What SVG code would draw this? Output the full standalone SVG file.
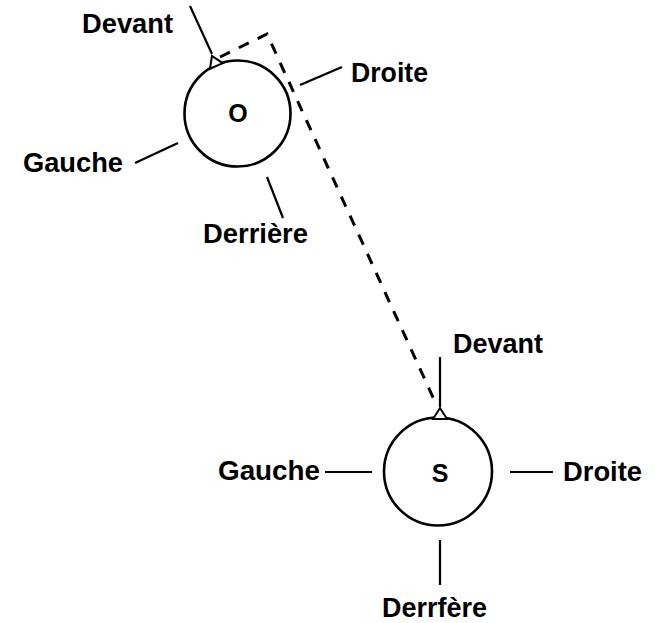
<svg xmlns="http://www.w3.org/2000/svg" width="659" height="623" viewBox="0 0 659 623">
<style>
.lbl{font-family:"Liberation Sans",Arial,sans-serif;font-weight:bold;font-size:27px;fill:#000}
.ctr{font-family:"Liberation Sans",Arial,sans-serif;font-weight:bold;font-size:25px;fill:#000;text-anchor:middle}
.ring{fill:none;stroke:#000;stroke-width:2.6}
.lead{fill:none;stroke:#000;stroke-width:2.2}
.mark{fill:#fff;stroke:#000;stroke-width:2}
.dash{fill:none;stroke:#000;stroke-width:3;stroke-dasharray:11 10}
</style>
<defs>
<polygon id="tri" points="-7,1 0,-10 7,1"/>
</defs>
<rect width="659" height="623" fill="#fff"/>
<g id="connectors">
<path class="dash" d="M220,57 L267,34 L437,406"/>
<line class="lead" x1="190" y1="6" x2="212" y2="54"/>
<line class="lead" x1="300" y1="85" x2="342" y2="67"/>
<line class="lead" x1="135" y1="163" x2="178" y2="143"/>
<line class="lead" x1="267" y1="177" x2="283" y2="218"/>
<line class="lead" x1="440" y1="357" x2="440" y2="407"/>
<line class="lead" x1="325" y1="472" x2="372" y2="472"/>
<line class="lead" x1="510" y1="472" x2="553" y2="472"/>
<line class="lead" x1="440" y1="540" x2="440" y2="585"/>
</g>
<g id="node-O">
<circle class="ring" cx="237.5" cy="113.5" r="53"/>
<use href="#tri" class="mark" transform="translate(216,65) rotate(-24)"/>
<text class="ctr" x="238" y="122">O</text>
</g>
<g id="node-S">
<circle class="ring" cx="438" cy="471.5" r="54"/>
<use href="#tri" class="mark" transform="translate(440,418)"/>
<text class="ctr" x="440" y="482">S</text>
</g>
<g id="labels-O">
<text class="lbl" x="82" y="33" textLength="91" lengthAdjust="spacingAndGlyphs">Devant</text>
<text class="lbl" x="351" y="82" textLength="77" lengthAdjust="spacingAndGlyphs">Droite</text>
<text class="lbl" x="23" y="172" textLength="100" lengthAdjust="spacingAndGlyphs">Gauche</text>
<text class="lbl" x="203" y="243" textLength="105" lengthAdjust="spacingAndGlyphs">Derrière</text>
</g>
<g id="labels-S">
<text class="lbl" x="453" y="353" textLength="90" lengthAdjust="spacingAndGlyphs">Devant</text>
<text class="lbl" x="218" y="480" textLength="102" lengthAdjust="spacingAndGlyphs">Gauche</text>
<text class="lbl" x="563" y="481" textLength="79" lengthAdjust="spacingAndGlyphs">Droite</text>
<text class="lbl" x="382" y="617" textLength="105" lengthAdjust="spacingAndGlyphs">Derrfère</text>
</g>
</svg>
